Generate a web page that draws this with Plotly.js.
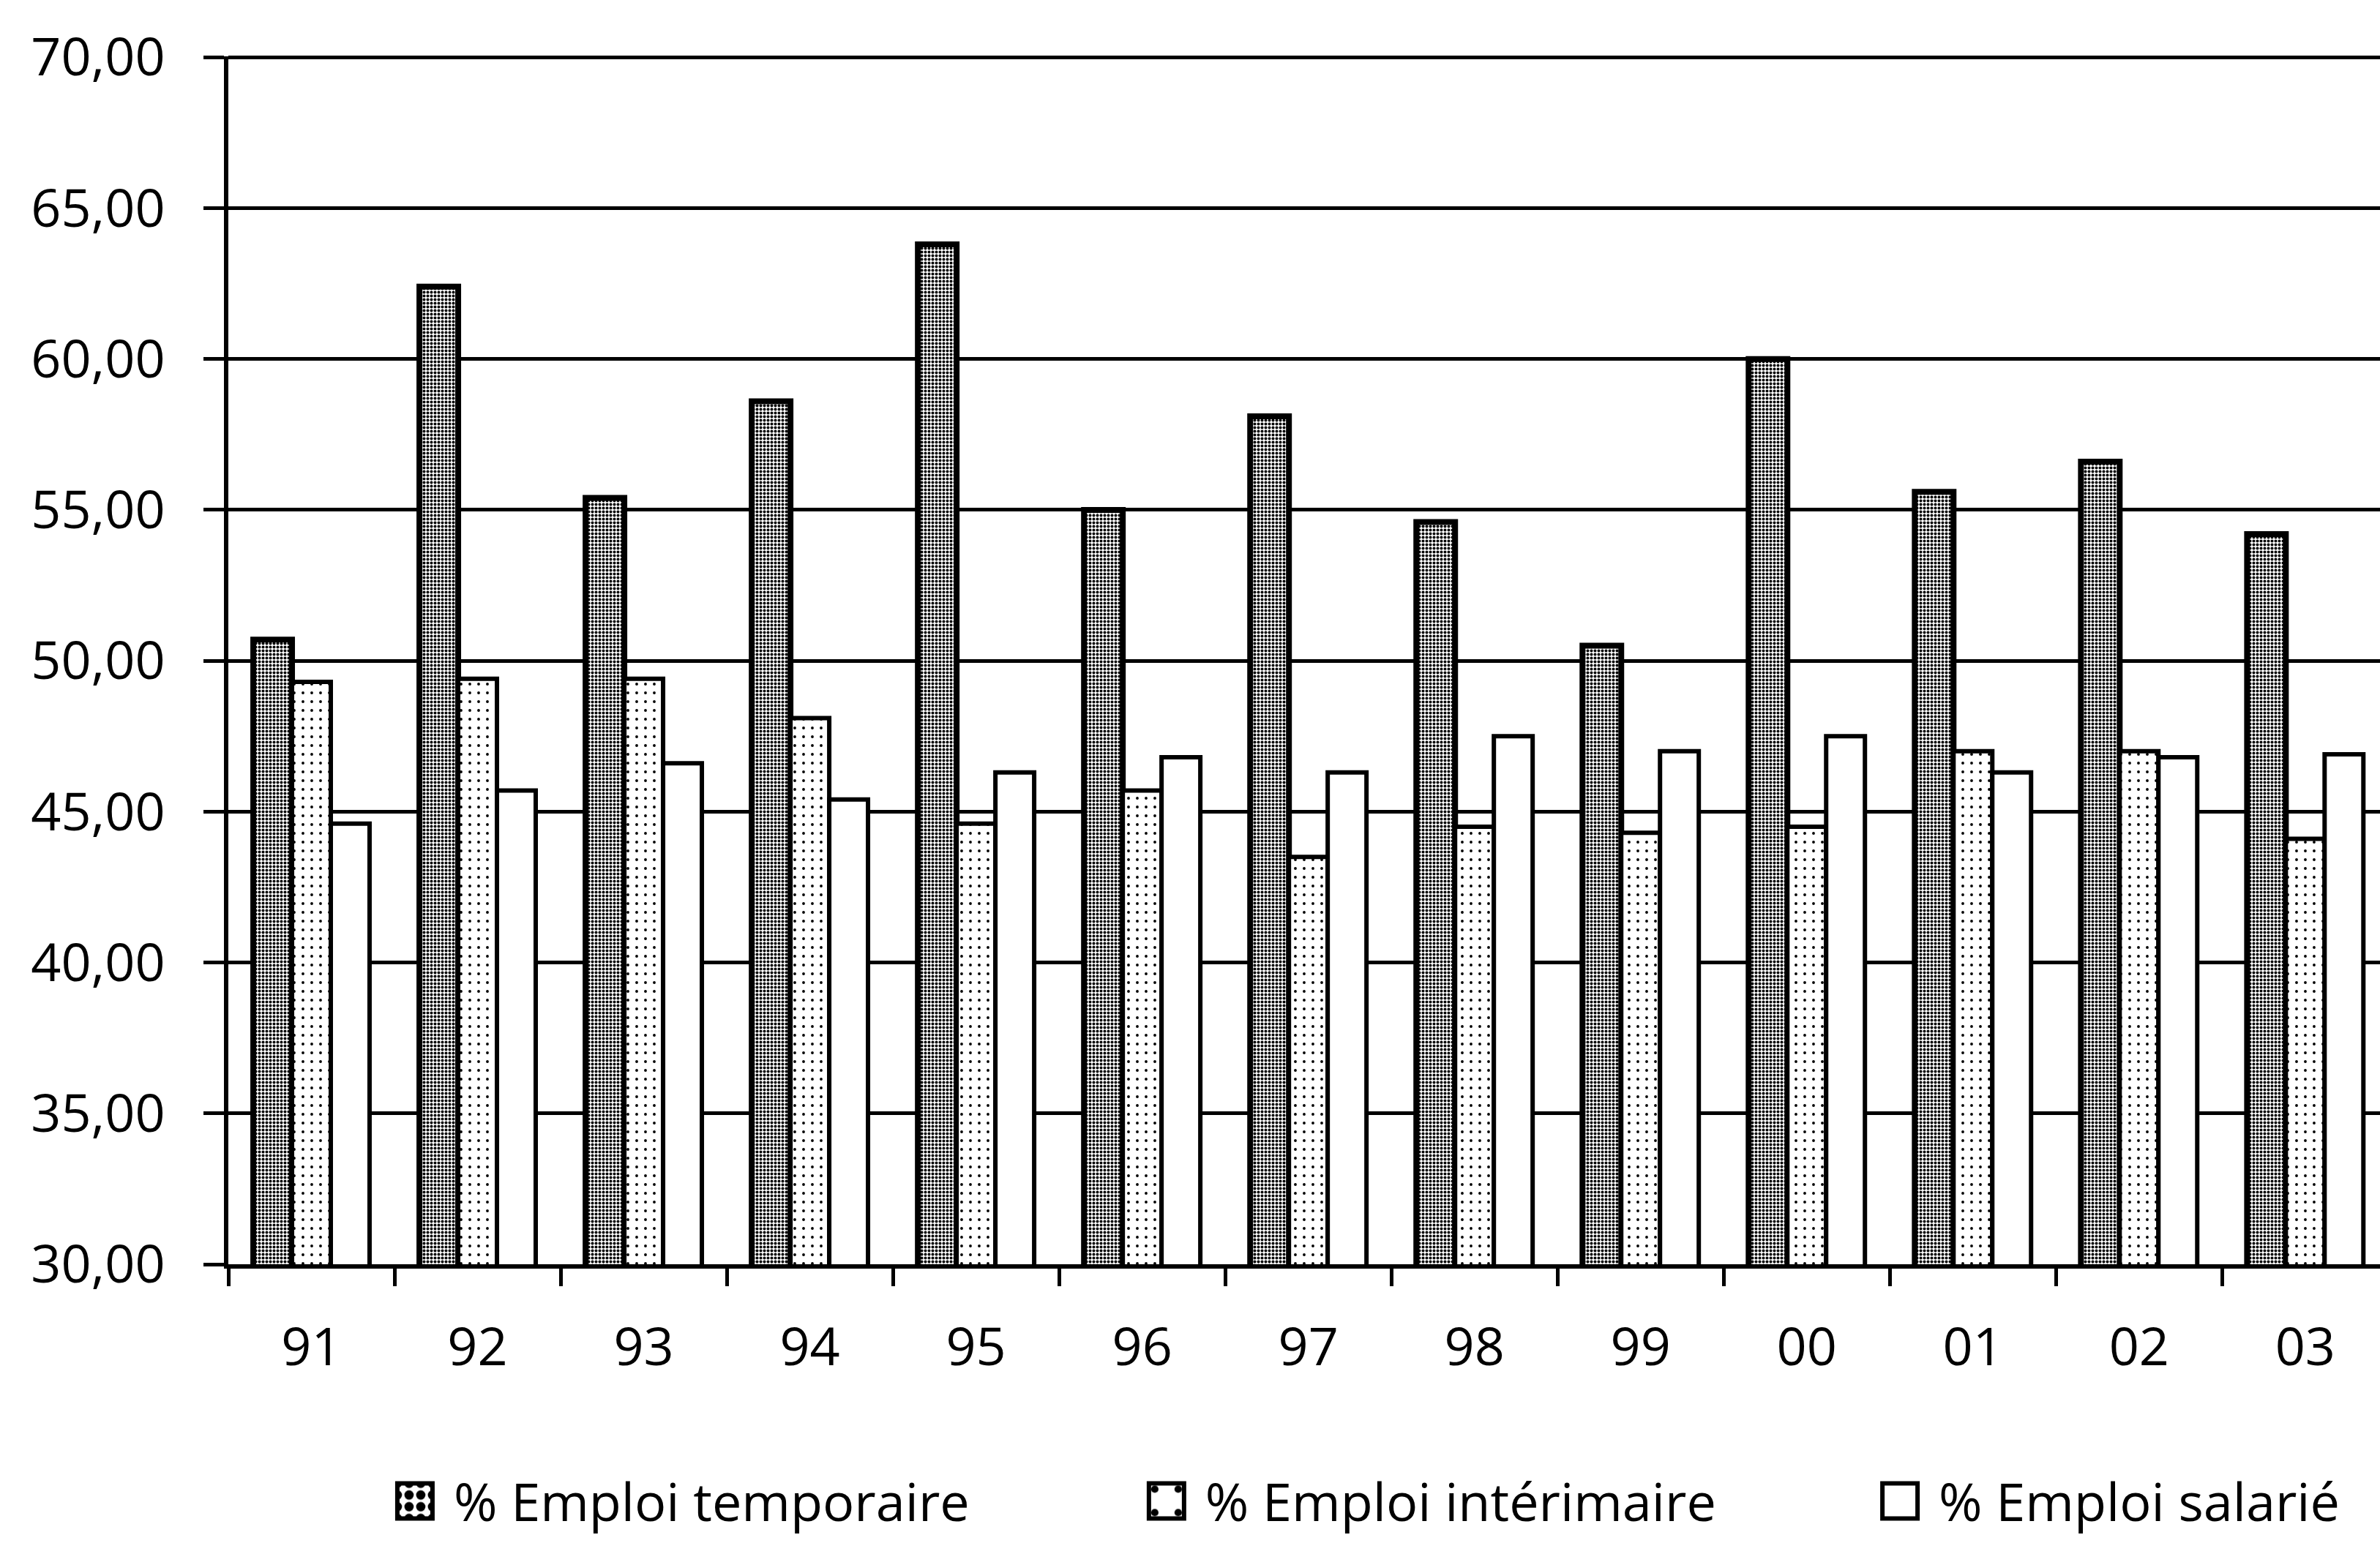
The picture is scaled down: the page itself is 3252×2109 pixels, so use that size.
<!DOCTYPE html>
<html>
<head>
<meta charset="utf-8">
<script src="https://cdn.plot.ly/plotly-3.0.1.min.js"></script>
<style>
  html, body { margin: 0; padding: 0; background: #fff; overflow: hidden; }
  #chart { width: 3252px; height: 2109px; }
</style>
</head>
<body>
<div id="chart"></div>
<script>
// Years (two-digit labels along the category axis)
const years = ['91', '92', '93', '94', '95', '96', '97', '98', '99', '00', '01', '02', '03'];

// Shares in percent, one value per year
const emploiTemporaire  = [50.7, 62.4, 55.4, 58.6, 63.8, 55.0, 58.1, 54.6, 50.5, 60.0, 55.6, 56.6, 54.2];
const emploiInterimaire = [49.3, 49.4, 49.4, 48.1, 44.6, 45.7, 43.5, 44.5, 44.3, 44.5, 47.0, 47.0, 44.1];
const emploiSalarie     = [44.6, 45.7, 46.6, 45.4, 46.3, 46.8, 46.3, 47.5, 47.0, 47.5, 46.3, 46.8, 46.9];

const seriesNames = ['% Emploi temporaire', '% Emploi intérimaire', '% Emploi salarié'];

const ink = '#000';
const font = { family: 'Open Sans, Noto Sans, sans-serif', size: 72, color: ink };

const traces = [
  {
    type: 'bar', name: seriesNames[0], x: years, y: emploiTemporaire, legend: 'legend',
    marker: {
      color: '#fff',
      line: { color: ink, width: 8 },
      pattern: { shape: '.', fgcolor: ink, bgcolor: '#fff', size: 5, solidity: 0.5 }
    }
  },
  {
    type: 'bar', name: seriesNames[1], x: years, y: emploiInterimaire, legend: 'legend2',
    marker: {
      color: '#fff',
      line: { color: ink, width: 6 },
      pattern: { shape: '.', fgcolor: ink, bgcolor: '#fff', size: 12, solidity: 0.08 }
    }
  },
  {
    type: 'bar', name: seriesNames[2], x: years, y: emploiSalarie, legend: 'legend3',
    marker: { color: '#fff', line: { color: ink, width: 6 } }
  }
];

const legendItemWidth = 98;

// One single-entry legend per series, laid out in a row under the axis
function legendAt(x) {
  return {
    orientation: 'h',
    x: x, xanchor: 'left',
    y: -0.196, yanchor: 'middle',
    font: font,
    itemwidth: legendItemWidth,
    itemclick: false
  };
}

const layout = {
  width: 3252,
  height: 2109,
  margin: { l: 312, r: 0, t: 77, b: 381, autoexpand: false },
  paper_bgcolor: '#fff',
  plot_bgcolor: '#fff',
  font: font,
  separators: ', ',
  barmode: 'group',
  bargap: 0.3,
  bargroupgap: 0,
  showlegend: true,
  legend: legendAt(0.068),
  legend2: legendAt(0.4173),
  legend3: legendAt(0.7582),
  xaxis: {
    type: 'category',
    range: [-0.5, 12.45],
    showline: true, linecolor: ink, linewidth: 6,
    ticks: 'outside', tickson: 'boundaries', ticklen: 24, tickwidth: 5, tickcolor: ink,
    ticklabelstandoff: 46,
    showgrid: false,
    tickfont: font
  },
  yaxis: {
    range: [30, 70.03],
    dtick: 5,
    tick0: 30,
    tickformat: '.2f',
    showline: true, linecolor: ink, linewidth: 6,
    ticks: 'outside', ticklen: 28, tickwidth: 5, tickcolor: ink,
    ticklabelstandoff: 38,
    showgrid: true, gridcolor: ink, gridwidth: 5,
    zeroline: false,
    tickfont: font
  }
};

Plotly.newPlot('chart', traces, layout, { staticPlot: true }).then(gd => {
  // Enlarge the legend swatches so they read at the same scale as the text
  const cx = legendItemWidth - 43;
  gd.querySelectorAll('.legendpoints path').forEach(p => {
    p.setAttribute('transform', `translate(${cx},0) scale(4)`);
    p.style.vectorEffect = 'non-scaling-stroke';
    p.style.strokeWidth = '6px';
  });
});
</script>
</body>
</html>
